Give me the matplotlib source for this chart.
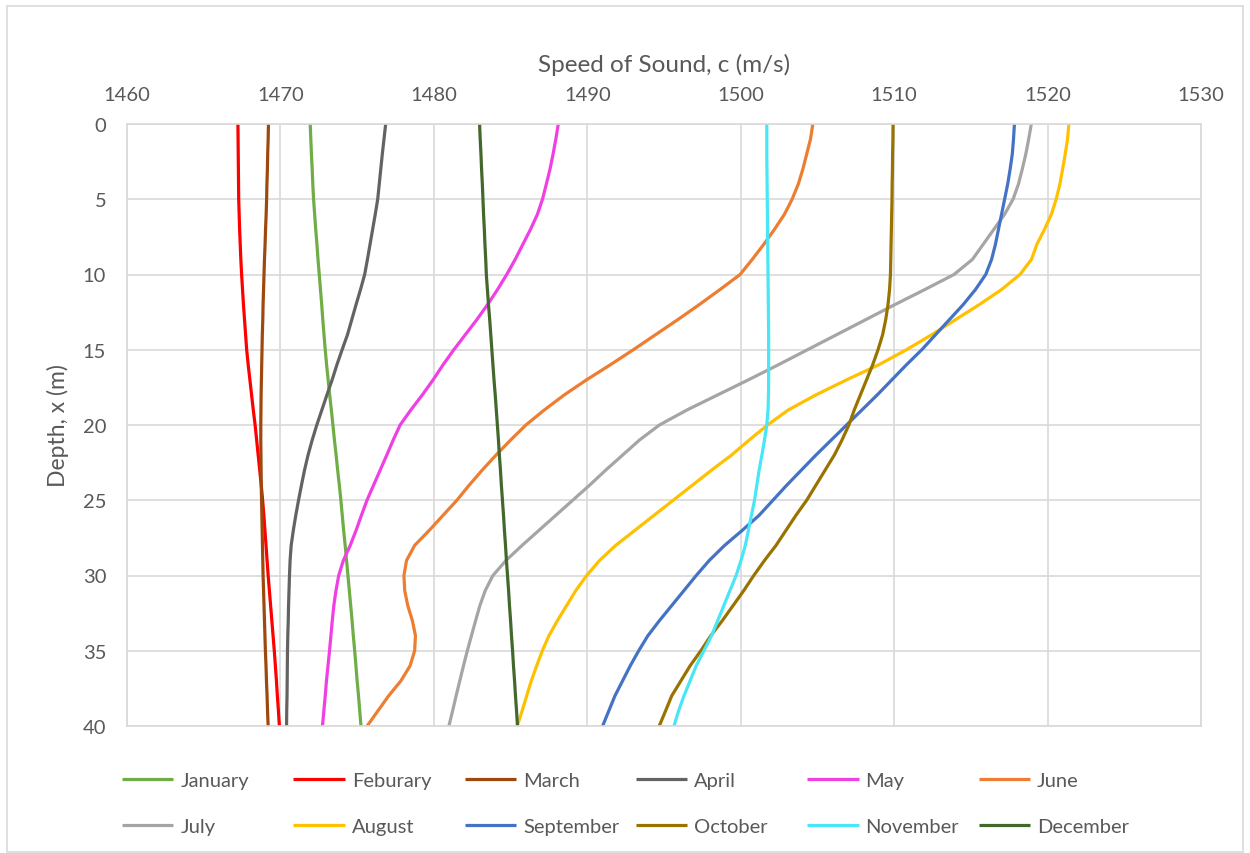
import numpy as np
import matplotlib
matplotlib.use("Agg")
import matplotlib.pyplot as plt
from matplotlib.patches import Rectangle


# depth (m) at which the speed was read, every 1 m
depth = list(range(0, 41))

# speed of sound (m/s) per month
january = [1471.94, 1471.98, 1472.02, 1472.07, 1472.11, 1472.16, 1472.23, 1472.3, 1472.38, 1472.45, 1472.53,
           1472.61, 1472.69, 1472.76, 1472.84, 1472.92, 1473.01, 1473.11, 1473.21, 1473.32, 1473.42,
           1473.52, 1473.63, 1473.73, 1473.84, 1473.94, 1474.03, 1474.12, 1474.22, 1474.31, 1474.4,
           1474.49, 1474.58, 1474.67, 1474.75, 1474.84, 1474.92, 1475.0, 1475.09, 1475.17, 1475.25]
feburary = [1467.23, 1467.24, 1467.25, 1467.26, 1467.27, 1467.28, 1467.31, 1467.34, 1467.38, 1467.42, 1467.47,
            1467.53, 1467.59, 1467.66, 1467.73, 1467.8, 1467.9, 1468.01, 1468.12, 1468.23, 1468.35,
            1468.45, 1468.55, 1468.65, 1468.75, 1468.84, 1468.92, 1468.99, 1469.06, 1469.13, 1469.2,
            1469.28, 1469.36, 1469.44, 1469.52, 1469.6, 1469.67, 1469.74, 1469.8, 1469.87, 1469.93]
march = [1469.22, 1469.2, 1469.17, 1469.15, 1469.12, 1469.1, 1469.07, 1469.03, 1469.0, 1468.96, 1468.93,
         1468.9, 1468.87, 1468.85, 1468.82, 1468.8, 1468.78, 1468.76, 1468.74, 1468.73, 1468.72,
         1468.72, 1468.73, 1468.74, 1468.75, 1468.77, 1468.79, 1468.81, 1468.83, 1468.85, 1468.87,
         1468.9, 1468.93, 1468.96, 1468.99, 1469.02, 1469.06, 1469.09, 1469.13, 1469.16, 1469.2]
april = [1476.86, 1476.75, 1476.64, 1476.54, 1476.44, 1476.34, 1476.18, 1476.01, 1475.84, 1475.67, 1475.49,
         1475.22, 1474.93, 1474.65, 1474.37, 1474.02, 1473.68, 1473.37, 1473.03, 1472.7, 1472.37,
         1472.07, 1471.8, 1471.57, 1471.37, 1471.18, 1471.0, 1470.84, 1470.7, 1470.63, 1470.59,
         1470.56, 1470.53, 1470.51, 1470.48, 1470.46, 1470.45, 1470.44, 1470.43, 1470.41, 1470.4]
may = [1488.11, 1487.95, 1487.77, 1487.57, 1487.33, 1487.08, 1486.75, 1486.3, 1485.8, 1485.3, 1484.75,
       1484.15, 1483.5, 1482.8, 1482.05, 1481.3, 1480.6, 1479.95, 1479.25, 1478.5, 1477.8,
       1477.35, 1476.93, 1476.5, 1476.07, 1475.64, 1475.28, 1474.93, 1474.55, 1474.1, 1473.8,
       1473.62, 1473.48, 1473.38, 1473.29, 1473.2, 1473.1, 1473.0, 1472.92, 1472.83, 1472.74]
june = [1504.7, 1504.55, 1504.3, 1504.05, 1503.75, 1503.35, 1502.85, 1502.2, 1501.5, 1500.75, 1499.96,
        1498.65, 1497.3, 1495.9, 1494.45, 1493.0, 1491.5, 1489.95, 1488.5, 1487.2, 1486.0,
        1485.0, 1484.05, 1483.15, 1482.3, 1481.5, 1480.6, 1479.7, 1478.75, 1478.22, 1478.05,
        1478.1, 1478.3, 1478.6, 1478.8, 1478.75, 1478.45, 1477.85, 1477.05, 1476.35, 1475.65]
july = [1518.94, 1518.77, 1518.58, 1518.35, 1518.1, 1517.75, 1517.2, 1516.5, 1515.8, 1515.1, 1513.9,
        1512.0, 1510.05, 1508.15, 1506.25, 1504.35, 1502.45, 1500.5, 1498.5, 1496.5, 1494.7,
        1493.4, 1492.3, 1491.2, 1490.15, 1489.05, 1487.95, 1486.85, 1485.75, 1484.7, 1483.85,
        1483.35, 1483.0, 1482.72, 1482.45, 1482.18, 1481.93, 1481.69, 1481.45, 1481.22, 1480.98]
august = [1521.39, 1521.3, 1521.15, 1520.98, 1520.8, 1520.56, 1520.25, 1519.8, 1519.3, 1518.95, 1518.2,
          1517.0, 1515.55, 1514.0, 1512.45, 1510.8, 1509.0, 1506.9, 1504.9, 1503.1, 1501.75,
          1500.55, 1499.4, 1498.1, 1496.85, 1495.6, 1494.35, 1493.1, 1491.85, 1490.8, 1489.96,
          1489.25, 1488.65, 1488.05, 1487.5, 1487.07, 1486.7, 1486.35, 1486.05, 1485.75, 1485.44]
september = [1517.84, 1517.78, 1517.7, 1517.56, 1517.4, 1517.2, 1517.0, 1516.8, 1516.6, 1516.35, 1515.97,
             1515.3, 1514.5, 1513.6, 1512.7, 1511.8, 1510.8, 1509.85, 1508.9, 1507.9, 1506.9,
             1505.9, 1504.9, 1503.95, 1503.0, 1502.1, 1501.2, 1500.1, 1498.95, 1497.95, 1497.1,
             1496.3, 1495.5, 1494.7, 1493.95, 1493.35, 1492.8, 1492.3, 1491.8, 1491.4, 1491.0]
october = [1509.93, 1509.92, 1509.9, 1509.89, 1509.87, 1509.86, 1509.84, 1509.82, 1509.8, 1509.78, 1509.76,
           1509.7, 1509.6, 1509.45, 1509.25, 1508.95, 1508.6, 1508.2, 1507.8, 1507.4, 1507.05,
           1506.6, 1506.1, 1505.5, 1504.9, 1504.3, 1503.6, 1502.95, 1502.3, 1501.55, 1500.85,
           1500.2, 1499.5, 1498.8, 1498.05, 1497.4, 1496.7, 1496.1, 1495.5, 1495.1, 1494.69]
november = [1501.7, 1501.7, 1501.7, 1501.71, 1501.72, 1501.73, 1501.74, 1501.75, 1501.76, 1501.77, 1501.78,
            1501.79, 1501.8, 1501.81, 1501.82, 1501.82, 1501.82, 1501.82, 1501.81, 1501.78, 1501.7,
            1501.55, 1501.38, 1501.2, 1501.05, 1500.9, 1500.7, 1500.5, 1500.3, 1500.02, 1499.7,
            1499.3, 1498.9, 1498.5, 1498.1, 1497.6, 1497.1, 1496.7, 1496.3, 1495.95, 1495.65]
december = [1482.98, 1483.02, 1483.07, 1483.11, 1483.16, 1483.2, 1483.24, 1483.29, 1483.33, 1483.38, 1483.42,
            1483.49, 1483.56, 1483.64, 1483.71, 1483.78, 1483.85, 1483.92, 1484.0, 1484.07, 1484.14,
            1484.21, 1484.27, 1484.34, 1484.4, 1484.47, 1484.54, 1484.6, 1484.67, 1484.73, 1484.8,
            1484.87, 1484.93, 1485.0, 1485.06, 1485.13, 1485.19, 1485.26, 1485.32, 1485.39, 1485.45]

months = ['January', 'Feburary', 'March', 'April', 'May', 'June',
          'July', 'August', 'September', 'October', 'November', 'December']
speeds = [january, feburary, march, april, may, june,
          july, august, september, october, november, december]
colors = ['#70AD47', '#FF0000', '#9E480E', '#636363', '#F03FE3', '#ED7D31',
          '#A5A5A5', '#FFC000', '#4472C4', '#997300', '#48E6F7', '#43682B']

x_ticks = np.arange(1460, 1531, 10)
y_ticks = np.arange(0, 41, 5)

text_color = '#595959'
grid_color = '#D9D9D9'
plt.rcParams['font.family'] = ['Lato', 'DejaVu Sans']

W, H = 1250, 854
fig = plt.figure(figsize=(W / 100, H / 100), dpi=100)
ax = fig.add_axes([127 / W, 1 - 727 / H, (1201 - 127) / W, (727 - 125) / H])

lines = []
for name, c, col in zip(months, speeds, colors):
    ln, = ax.plot(c, depth, color=col, lw=2.3, label=name,
                  solid_joinstyle='round', solid_capstyle='butt')
    lines.append(ln)

ax.set_xlim(1460, 1530)
ax.set_ylim(40, 0)
ax.set_xticks(x_ticks)
ax.set_yticks(y_ticks)
ax.xaxis.tick_top()
ax.xaxis.set_label_position('top')
ax.tick_params(length=0, labelsize=14.5, colors=text_color)
ax.tick_params(axis='x', pad=15)
ax.tick_params(axis='y', pad=15)
ax.grid(True, color=grid_color, lw=1.2)
ax.set_axisbelow(True)
for sp in ax.spines.values():
    sp.set_color(grid_color)
    sp.set_linewidth(1.2)

ax.set_xlabel('Speed of Sound, c (m/s)', fontsize=17.5, color=text_color, labelpad=11)
ax.set_ylabel('Depth, x (m)', fontsize=16.5, color=text_color, labelpad=10)

# legend: one small legend per column, like Excel's evenly spaced grid
for col in range(6):
    hs = [lines[col], lines[col + 6]]
    leg = fig.legend(hs, [months[col], months[col + 6]], loc='upper left',
                     bbox_to_anchor=((122 + 171.3 * col) / W, 1 - 773 / H), frameon=False,
                     fontsize=14.5, labelcolor=text_color, handlelength=2.55,
                     handletextpad=0.35, borderpad=0, borderaxespad=0, labelspacing=1.45)

# chart area border
fig.add_artist(Rectangle((7 / W, 1 / H), (1243 - 7) / W, 846 / H, transform=fig.transFigure,
                         fill=False, edgecolor=grid_color, lw=1.2))

plt.savefig('out.png', dpi=100)
